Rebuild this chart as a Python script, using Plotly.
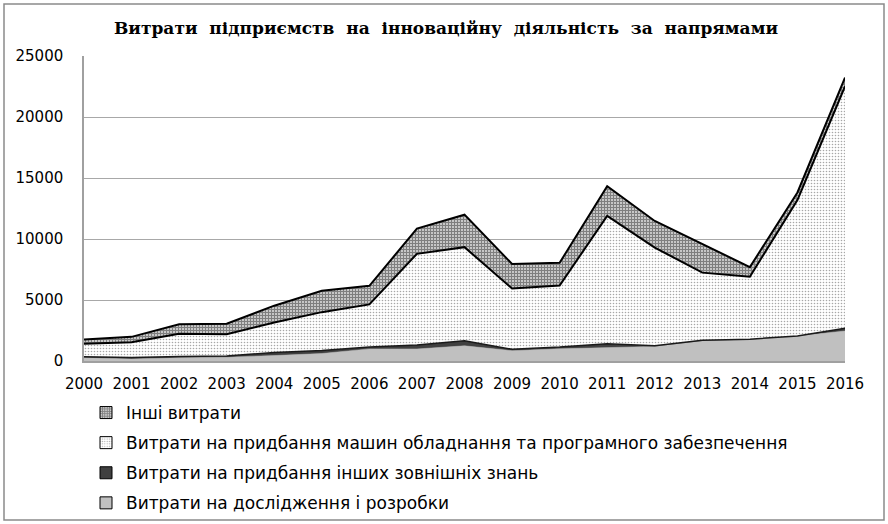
import plotly.graph_objects as go

years = list(range(2000, 2017))
rnd = [266.2, 171.4, 270.1, 312.5, 445.3, 612.1, 992.9, 986.5, 1243.6, 846.7, 996.4, 1079.9, 1196.3, 1638.5, 1754.6, 2039.5, 2457.7]
ext_knowledge = [72.8, 125.0, 91.6, 99.8, 254.8, 243.2, 159.5, 328.0, 421.8, 115.9, 141.6, 324.2, 47.2, 58.5, 37.5, 14.1, 221.3]
machinery = [1074.5, 1249.1, 1865.8, 1778.2, 2458.9, 3149.8, 3489.2, 7471.1, 7664.8, 4974.7, 5051.7, 10489.1, 8051.8, 5546.8, 5115.4, 11141.3, 19834.9]
other = [346.6, 433.9, 790.8, 869.3, 1375.6, 1746.5, 1518.4, 2065.3, 2664.0, 2012.6, 1855.8, 2440.7, 2185.3, 2318.8, 788.4, 618.8, 715.6]

names = [
    "Витрати на дослідження і розробки",
    "Витрати на придбання інших зовнішніх знань",
    "Витрати на придбання машин обладнання та програмного забезпечення",
    "Інші витрати",
]
y_ticks = [0, 5000, 10000, 15000, 20000, 25000]

W, H = 888, 524
L, R, T, B = 84, 43, 56, 163

dots = dict(shape=".", fgcolor="#505050", bgcolor="#ffffff", size=3, solidity=0.22)
grid = dict(shape="+", fgcolor="#000000", bgcolor="#ffffff", size=3, solidity=0.75)

styles = [
    dict(fill="#c0c0c0", line=dict(color="#b8b8b8", width=0.5), pattern=None),
    dict(fill="#404040", line=dict(color="#1a1a1a", width=1.5), pattern=None),
    dict(fill="#ffffff", line=dict(color="#000000", width=2), pattern=dots),
    dict(fill="#ffffff", line=dict(color="#000000", width=2), pattern=grid),
]
series = [rnd, ext_knowledge, machinery, other]

fig = go.Figure()
for nm, vals, st in zip(names, series, styles):
    kw = {}
    if st["pattern"] is not None:
        kw["fillpattern"] = st["pattern"]
    fig.add_trace(go.Scatter(
        x=years, y=vals, name=nm, stackgroup="s", mode="lines",
        line=st["line"], fillcolor=st["fill"], showlegend=False, hoverinfo="x+y", **kw))

# legend entries (square swatches), listed top to bottom as in the reference
for i, (nm, st) in enumerate(reversed(list(zip(names, styles)))):
    marker = dict(color=st["fill"], line=dict(color="#000000", width=1))
    if st["pattern"] is not None:
        p = st["pattern"]
        marker["pattern"] = dict(shape=p["shape"], fgcolor=p["fgcolor"], bgcolor=p["bgcolor"],
                                 size=3, solidity=p["solidity"])
    fig.add_trace(go.Bar(x=[None], y=[None], name=nm, marker=marker, showlegend=True,
                         legendgroup="g%d" % i))

fig.update_layout(
    width=W, height=H,
    margin=dict(l=L, r=R, t=T, b=B, autoexpand=False),
    paper_bgcolor="white", plot_bgcolor="white",
    title=dict(
        text="<b>Витрати  підприємств  на  інноваційну  діяльність  за  напрямами</b>",
        font=dict(family="DejaVu Serif", size=17, color="black"),
        x=446 / W, xanchor="center", y=1 - 28 / H, yanchor="middle", yref="container"),
    xaxis=dict(
        range=[2000, 2016], tickmode="array", tickvals=years, ticktext=[str(y) for y in years],
        showgrid=False, showline=True, linecolor="#a0a0a0", linewidth=1.5, ticks="",
        ticklabelstandoff=8, automargin=False,
        tickfont=dict(family="DejaVu Sans", size=15, color="black"), zeroline=False),
    yaxis=dict(
        range=[0, 25000], tickmode="array", tickvals=y_ticks, ticktext=[str(v) for v in y_ticks],
        showgrid=True, gridcolor="#a8a8a8", gridwidth=1, showline=True, linecolor="#a0a0a0",
        linewidth=1.5, ticks="", zeroline=False, ticklabelstandoff=16, automargin=False,
        tickfont=dict(family="DejaVu Sans", size=15, color="black")),
    legend=dict(
        xref="container", yref="container",
        x=86 / W, y=1 - 395 / H,
        xanchor="left", yanchor="top", traceorder="grouped", tracegroupgap=5,
        font=dict(family="DejaVu Sans", size=17, color="black"),
        itemwidth=30, bgcolor="rgba(0,0,0,0)"),
    showlegend=True,
)

fig.add_shape(type="rect", xref="paper", yref="paper",
              x0=-(L - 4) / (W - L - R), x1=1 + (R - 4) / (W - L - R),
              y0=-(B - 4) / (H - T - B), y1=1 + (T - 4) / (H - T - B),
              line=dict(color="#8a8a8a", width=1.5), layer="below")

fig.write_html("out.html", config={"displayModeBar": False},
               post_script="document.body.style.margin='0px';")
